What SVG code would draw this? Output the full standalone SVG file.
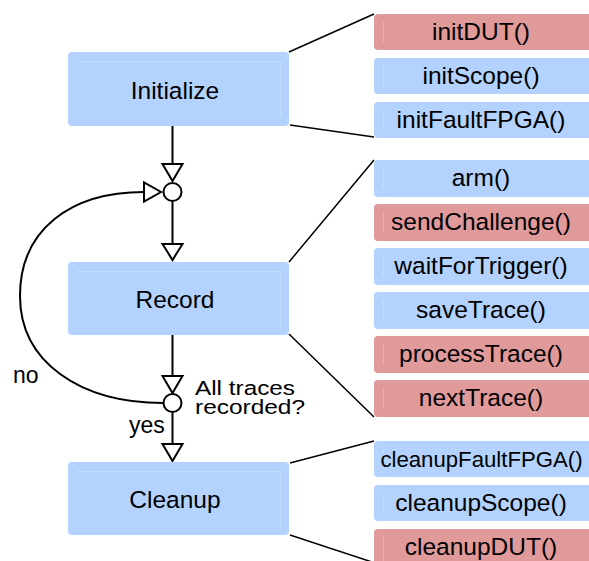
<svg xmlns="http://www.w3.org/2000/svg" width="589" height="561" viewBox="0 0 589 561">
<defs>
<style>
.main{fill:#b4d2fe;}
.inner{fill:none;stroke:#c6ddfe;stroke-width:1;}
.blue{fill:#b4d2fe;}
.red{fill:#e19a9a;}
.ib{stroke:#c6ddfe;stroke-width:1;}
.ir{stroke:#e8b0b0;stroke-width:1;}
.t{font-family:"Liberation Sans",Arial,sans-serif;font-size:24.5px;fill:#000;text-anchor:middle;}
.lbl{font-family:"Liberation Sans",Arial,sans-serif;font-size:23px;fill:#000;}
.q{font-family:"Liberation Sans",Arial,sans-serif;font-size:19.5px;fill:#000;}
.thin{stroke:#000;stroke-width:1.5;fill:none;}
.flow{stroke:#000;stroke-width:2;fill:none;}
.head{fill:#fff;stroke:#000;stroke-width:2;stroke-linejoin:miter;}
.node{fill:#fff;stroke:#000;stroke-width:2;}
</style>
</defs>
<rect width="589" height="561" fill="#fff"/>
<g id="connectors">
<line class="thin" x1="289" y1="52" x2="374" y2="14"/>
<line class="thin" x1="290" y1="125" x2="374" y2="137"/>
<line class="thin" x1="289" y1="262" x2="374" y2="160"/>
<line class="thin" x1="289" y1="334" x2="374" y2="417"/>
<line class="thin" x1="290" y1="463" x2="374" y2="441"/>
<line class="thin" x1="290" y1="535" x2="372" y2="562"/>
<line class="flow" x1="172.5" y1="126" x2="172.5" y2="164"/>
<polygon class="head" points="162.5,164 182.5,164 172.5,181"/>
<line class="flow" x1="172.5" y1="202" x2="172.5" y2="244"/>
<polygon class="head" points="162.5,244 182.5,244 172.5,260"/>
<line class="flow" x1="172.5" y1="335" x2="172.5" y2="376"/>
<polygon class="head" points="162.5,376 182.5,376 172.5,393"/>
<line class="flow" x1="172.5" y1="413" x2="172.5" y2="444"/>
<polygon class="head" points="162.5,444 182.5,444 172.5,461"/>
<path class="flow" d="M163.5,403 C80,403 20,362 20,296 C20,230 70,192 144,192"/>
<polygon class="head" points="144,182.5 144,201.5 161,192"/>
<text class="lbl" x="13" y="383">no</text>
<text class="lbl" x="129" y="433">yes</text>
<text class="q" x="195" y="395" textLength="100" lengthAdjust="spacingAndGlyphs">All traces</text>
<text class="q" x="195" y="414" textLength="110" lengthAdjust="spacingAndGlyphs">recorded?</text>
</g>
<g id="merge1"><circle class="node" cx="172.5" cy="192" r="9"/></g>
<g id="decision"><circle class="node" cx="172.5" cy="403" r="9"/></g>
<g id="initialize">
<rect class="main" x="68" y="52" width="221" height="74" rx="4"/>
<path class="inner" d="M77,61.5 H280.5 V117"/>
<text class="t" x="175" y="99">Initialize</text>
</g>
<g id="record">
<rect class="main" x="68" y="262" width="221" height="73" rx="4"/>
<path class="inner" d="M77,271.5 H280.5 V326"/>
<text class="t" x="175" y="308">Record</text>
</g>
<g id="cleanup">
<rect class="main" x="68" y="462" width="221" height="73" rx="4"/>
<path class="inner" d="M77,471.5 H280.5 V526"/>
<text class="t" x="175" y="508">Cleanup</text>
</g>
<g id="initDUT"><rect class="red" x="374" y="14" width="222" height="36" rx="4"/><line class="ir" x1="383.5" y1="22" x2="383.5" y2="42"/><text class="t" x="481" y="40">initDUT()</text></g>
<g id="initScope"><rect class="blue" x="374" y="58" width="222" height="36" rx="4"/><line class="ib" x1="383.5" y1="66" x2="383.5" y2="86"/><text class="t" x="481" y="84">initScope()</text></g>
<g id="initFaultFPGA"><rect class="blue" x="374" y="102" width="222" height="36" rx="4"/><line class="ib" x1="383.5" y1="110" x2="383.5" y2="130"/><text class="t" x="481" y="128">initFaultFPGA()</text></g>
<g id="arm"><rect class="blue" x="374" y="160" width="222" height="37" rx="4"/><line class="ib" x1="383.5" y1="168" x2="383.5" y2="189"/><text class="t" x="481" y="186">arm()</text></g>
<g id="sendChallenge"><rect class="red" x="374" y="204" width="222" height="37" rx="4"/><line class="ir" x1="383.5" y1="212" x2="383.5" y2="233"/><text class="t" x="481" y="230">sendChallenge()</text></g>
<g id="waitForTrigger"><rect class="blue" x="374" y="248" width="222" height="37" rx="4"/><line class="ib" x1="383.5" y1="256" x2="383.5" y2="277"/><text class="t" x="481" y="274">waitForTrigger()</text></g>
<g id="saveTrace"><rect class="blue" x="374" y="292" width="222" height="37" rx="4"/><line class="ib" x1="383.5" y1="300" x2="383.5" y2="321"/><text class="t" x="481" y="318">saveTrace()</text></g>
<g id="processTrace"><rect class="red" x="374" y="336" width="222" height="37" rx="4"/><line class="ir" x1="383.5" y1="344" x2="383.5" y2="365"/><text class="t" x="481" y="362">processTrace()</text></g>
<g id="nextTrace"><rect class="red" x="374" y="380" width="222" height="37" rx="4"/><line class="ir" x1="383.5" y1="388" x2="383.5" y2="409"/><text class="t" x="481" y="406">nextTrace()</text></g>
<g id="cleanupFaultFPGA"><rect class="blue" x="374" y="441" width="222" height="36" rx="4"/><line class="ib" x1="383.5" y1="449" x2="383.5" y2="469"/><text class="t" x="481.5" y="467" style="font-size:22.2px">cleanupFaultFPGA()</text></g>
<g id="cleanupScope"><rect class="blue" x="374" y="485" width="222" height="36" rx="4"/><line class="ib" x1="383.5" y1="493" x2="383.5" y2="513"/><text class="t" x="481" y="511">cleanupScope()</text></g>
<g id="cleanupDUT"><rect class="red" x="374" y="529" width="222" height="40" rx="4"/><line class="ir" x1="383.5" y1="537" x2="383.5" y2="561"/><text class="t" x="481" y="555">cleanupDUT()</text></g>
</svg>
